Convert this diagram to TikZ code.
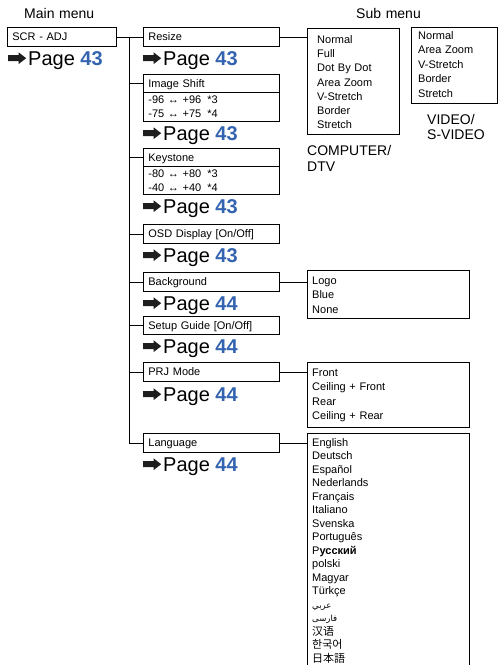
\documentclass[tikz,border=0pt]{standalone}
\usepackage{fontspec}
\setmainfont{Liberation Sans}
\newfontfamily\arabicfont[Script=Arabic]{DejaVu Sans}
\newfontfamily\cjksc{Noto Sans CJK SC}
\newfontfamily\cjkkr{Noto Sans CJK KR}
\newfontfamily\cjkjp{Noto Sans CJK JP}
\TeXXeTstate=1
\definecolor{pageblue}{RGB}{52,100,176}
\definecolor{arrowblack}{RGB}{30,30,30}
\newsavebox\arrbox
\sbox\arrbox{\tikz[baseline=0pt]{\fill[arrowblack] (0pt,3.8pt) -- (10.5pt,3.8pt) -- (10.5pt,1pt) -- (18pt,6.8pt) -- (10.5pt,12.6pt) -- (10.5pt,9.8pt) -- (0pt,9.8pt) -- cycle;}}
\newcommand\pg[1]{\usebox\arrbox\hspace{2pt}Page \textcolor{pageblue}{\bfseries #1}}
\newcommand\lr{↔}
\begin{document}
\begin{tikzpicture}[x=1pt,y=-1pt,
  conn/.style={line width=0.8pt, draw=black},
  mbox/.style={draw=black, line width=0.8pt, anchor=north west, inner xsep=5pt, inner ysep=0pt,
    minimum height=19pt, text width=126pt, text height=8pt, text depth=0pt, align=left,
    font=\fontsize{11}{14}\selectfont},
  bodybox/.style={mbox, text depth=14pt},
  subbox/.style={draw=black, line width=0.8pt, anchor=north west, inner sep=0pt},
  listtext/.style={anchor=base west, inner sep=0pt, text width=150pt, align=left},
  pagelbl/.style={anchor=base west, inner sep=0pt, font=\fontsize{20}{24}\selectfont},
  title/.style={anchor=base west, inner sep=0pt, text width=100pt, align=left}
]
\useasboundingbox (0,0) rectangle (501,665);

% titles
\node[title, font=\fontsize{14}{16}\selectfont] (tmain) at (24,18.3) {Main menu};
\node[title, font=\fontsize{14}{16}\selectfont] (tsub) at (356,18.3) {Sub menu};

% main menu
\node[mbox, text width=99pt] (scr) at (7,27) {SCR - ADJ};
\node[pagelbl] (pscr) at (8,65) {\pg{43}};

% second column
\node[mbox] (resize) at (143,27) {Resize};
\node[pagelbl] (presize) at (143,65) {\pg{43}};

\node[mbox, minimum height=18pt] (imgsh) at (143,74) {Image Shift};
\node[bodybox, minimum height=29pt] (imgshb) at (143,92) {-96 \lr{} +96\hspace{6pt}*3\\-75 \lr{} +75\hspace{6pt}*4};
\node[pagelbl] (pimgsh) at (143,140) {\pg{43}};

\node[mbox, minimum height=18pt] (key) at (143,148) {Keystone};
\node[bodybox, minimum height=28pt] (keyb) at (143,166) {-80 \lr{} +80\hspace{6pt}*3\\-40 \lr{} +40\hspace{6pt}*4};
\node[pagelbl] (pkey) at (143,213) {\pg{43}};

\node[mbox] (osd) at (143,224) {OSD Display [On/Off]};
\node[pagelbl] (posd) at (143,262) {\pg{43}};

\node[mbox] (bg) at (143,272) {Background};
\node[pagelbl] (pbg) at (143,310) {\pg{44}};

\node[mbox, minimum height=18pt] (setup) at (143,316) {Setup Guide [On/Off]};
\node[pagelbl] (psetup) at (143,353) {\pg{44}};

\node[mbox] (prj) at (143,362) {PRJ Mode};
\node[pagelbl] (pprj) at (143,401) {\pg{44}};

\node[mbox] (lang) at (143,433) {Language};
\node[pagelbl] (plang) at (143,471) {\pg{44}};

% sub menus
\node[subbox, minimum width=92pt, minimum height=106pt] (comp) at (307,28) {};
\node[listtext, font=\fontsize{11}{14.25}\selectfont] (compl) at (317,43.3)
  {Normal\\Full\\Dot By Dot\\Area Zoom\\V-Stretch\\Border\\Stretch};
\node[title, font=\fontsize{14}{16}\selectfont] (compt) at (307,155) {COMPUTER/\\DTV};

\node[subbox, minimum width=86pt, minimum height=76pt] (video) at (411,27) {};
\node[listtext, font=\fontsize{11}{14.5}\selectfont] (videol) at (418,39.3)
  {Normal\\Area Zoom\\V-Stretch\\Border\\Stretch};
\node[title, font=\fontsize{14}{15}\selectfont] (videot) at (427,124) {VIDEO/\\S-VIDEO};

\node[subbox, minimum width=162pt, minimum height=48pt] (logo) at (307,270) {};
\node[listtext, font=\fontsize{11}{14.5}\selectfont] (logol) at (312,284) {Logo\\Blue\\None};

\node[subbox, minimum width=162pt, minimum height=65pt] (front) at (307,362) {};
\node[listtext, font=\fontsize{11}{14.2}\selectfont] (frontl) at (312,376.7)
  {Front\\Ceiling + Front\\Rear\\Ceiling + Rear};

\node[anchor=north west, inner sep=0pt, minimum width=162pt, minimum height=232pt] (langs) at (307,433) {};
\draw[conn] (langs.south west) -- (langs.north west) -- (langs.north east) -- (langs.south east);
\node[listtext, font=\fontsize{11}{13.5}\selectfont] (langl) at (312,446)
  {English\\Deutsch\\Español\\Nederlands\\Français\\Italiano\\Svenska\\Português\\
   Р{\bfseries усский}\\polski\\Magyar\\Türkçe\\
   {\arabicfont\fontsize{8.5}{8.5}\selectfont\beginR عربي\endR}\\
   {\arabicfont\fontsize{8.5}{8.5}\selectfont\beginR فارسی\endR}\\
   {\cjksc 汉语}\\{\cjkkr 한국어}\\{\cjkjp 日本語}};

% connectors
\coordinate (trunkx) at (129,0);
\draw[conn] (scr.east) -- (resize.west);
\draw[conn] (scr.east -| trunkx) -- (lang.west -| trunkx);
\foreach \n in {imgsh,key,osd,bg,setup,prj,lang}
  \draw[conn] (\n.west -| trunkx) -- (\n.west);
\draw[conn] (resize.east) -- (resize.east -| comp.west);
\draw[conn] (bg.east) -- (bg.east -| logo.west);
\draw[conn] (prj.east) -- (prj.east -| front.west);
\draw[conn] (lang.east) -- (lang.east -| langs.west);
\end{tikzpicture}
\end{document}
